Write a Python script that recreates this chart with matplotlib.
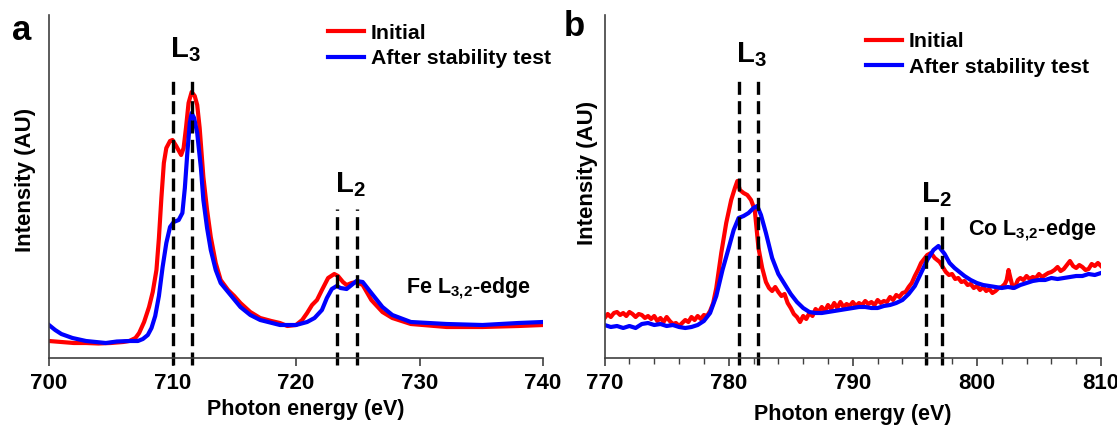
import matplotlib
matplotlib.use("Agg")
import matplotlib.pyplot as plt
from matplotlib.ticker import MultipleLocator

plt.rcParams['font.family'] = ['Liberation Sans', 'DejaVu Sans']
plt.rcParams['font.weight'] = 'bold'
plt.rcParams['mathtext.fontset'] = 'custom'
plt.rcParams['mathtext.rm'] = 'Liberation Sans:bold'
plt.rcParams['mathtext.it'] = 'Liberation Sans:bold'
plt.rcParams['mathtext.bf'] = 'Liberation Sans:bold'
plt.rcParams['mathtext.default'] = 'rm'

# ---------------- Panel a: Fe L3,2-edge ----------------
fe_energy_initial = [700.0, 701.0, 702.0, 703.0, 704.0, 705.0, 706.0, 706.5, 707.0, 707.3,
                     707.7, 708.1, 708.4, 708.7, 708.9, 709.1, 709.3, 709.5, 709.8, 710.0,
                     710.3, 710.7, 710.9, 711.1, 711.3, 711.55, 711.8, 712.0, 712.2, 712.5,
                     712.8, 713.1, 713.5, 713.9, 714.5, 715.0, 715.5, 716.3, 717.1, 718.0,
                     718.7, 719.3, 720.0, 720.5, 720.9, 721.3, 721.7, 722.1, 722.6, 723.1,
                     723.4, 723.8, 724.1, 724.5, 724.9, 725.4, 726.1, 727.0, 727.8, 729.3,
                     732.2, 735.1, 738.0, 740.0]
fe_initial = [17, 16, 15, 15, 14.5, 15, 16, 17, 20, 25,
              36, 51, 66, 88, 120, 160, 195, 210, 217, 218,
              212, 203, 210, 231, 255, 266, 262, 253, 230, 181,
              148, 121, 95, 78, 68, 62, 55, 46, 40, 37,
              35, 32, 33, 38, 45, 53, 58, 68, 80, 84,
              82, 76, 73, 75, 76, 73, 58, 46, 40, 34,
              31, 31, 32, 33]
fe_energy_after = [700.0, 700.5, 701.0, 701.9, 703.0, 704.6, 705.5, 706.5, 707.2, 707.6,
                   708.0, 708.3, 708.6, 708.9, 709.2, 709.5, 709.8, 710.1, 710.5, 710.8,
                   711.0, 711.2, 711.4, 711.55, 711.75, 712.0, 712.3, 712.5, 712.8, 713.1,
                   713.5, 713.9, 714.5, 715.5, 716.3, 717.1, 718.7, 720.0, 720.9, 721.5,
                   722.1, 722.5, 722.9, 723.3, 723.6, 724.1, 724.6, 724.9, 725.4, 726.1,
                   727.0, 727.8, 729.3, 732.2, 735.1, 738.0, 740.0]
fe_after = [33, 28, 24, 20, 17, 15, 16.5, 17, 17, 19,
            23, 30, 42, 62, 91, 115, 131, 136, 138, 145,
            170, 205, 235, 245, 240, 225, 190, 158, 130, 108,
            88, 75, 66, 51, 43, 38, 33, 33, 36, 40,
            48, 60, 69, 72, 70, 69, 74, 77, 76, 65,
            51, 43, 36, 34, 33, 35, 36]
fe_l3 = [710.0, 711.55]
fe_l2 = [723.3, 724.9]

# ---------------- Panel b: Co L3,2-edge ----------------
co_energy_initial = [770.00, 770.25, 770.50, 770.75, 771.00, 771.25, 771.50, 771.75, 772.00, 772.25,
                     772.50, 772.75, 773.00, 773.25, 773.50, 773.75, 774.00, 774.25, 774.50, 774.75,
                     775.00, 775.25, 775.50, 775.75, 776.00, 776.25, 776.50, 776.75, 777.00, 777.25,
                     777.50, 777.75, 778.00, 778.25, 778.50, 778.75, 779.00, 779.40, 779.80, 780.20,
                     780.50, 780.70, 780.90, 781.20, 781.50, 781.80, 782.10, 782.40, 782.70, 783.00,
                     783.25, 783.50, 783.75, 784.00, 784.25, 784.50, 784.75, 785.00, 785.25, 785.50,
                     785.75, 786.00, 786.25, 786.50, 786.75, 787.00, 787.25, 787.50, 787.75, 788.00,
                     788.25, 788.50, 788.75, 789.00, 789.25, 789.50, 789.75, 790.00, 790.25, 790.50,
                     790.75, 791.00, 791.25, 791.50, 791.75, 792.00, 792.25, 792.50, 792.75, 793.00,
                     793.25, 793.50, 793.75, 794.00, 794.25, 794.50, 794.75, 795.00, 795.25, 795.50,
                     795.75, 796.00, 796.30, 796.60, 797.00, 797.25, 797.50, 797.75, 798.00, 798.25,
                     798.50, 798.75, 799.00, 799.25, 799.50, 799.75, 800.00, 800.25, 800.50, 800.75,
                     801.00, 801.25, 801.50, 801.75, 802.00, 802.25, 802.40, 802.55, 802.70, 802.90,
                     803.10, 803.30, 803.50, 803.75, 804.00, 804.25, 804.50, 804.75, 805.00, 805.25,
                     805.50, 805.75, 806.00, 806.25, 806.50, 806.75, 807.00, 807.25, 807.50, 807.75,
                     808.00, 808.25, 808.50, 808.75, 809.00, 809.25, 809.50, 809.75, 810.00]
co_initial = [40, 44, 41, 45, 46, 43, 45, 42, 46, 44,
              41, 44, 43, 40, 42, 39, 42, 37, 40, 36,
              41, 37, 34, 35, 32, 35, 38, 36, 41, 38,
              42, 39, 43, 42, 47, 55, 70, 105, 135, 158,
              170, 177, 168, 165, 163, 158, 148, 110, 90, 76,
              70, 67, 71, 66, 62, 64, 55, 50, 44, 41,
              36, 42, 39, 45, 42, 49, 46, 51, 47, 53,
              49, 55, 50, 56, 51, 54, 52, 56, 52, 55,
              53, 57, 54, 56, 53, 58, 55, 57, 56, 61,
              58, 63, 61, 65, 66, 71, 75, 82, 88, 95,
              99, 103, 105, 100, 96, 91, 86, 83, 84, 79,
              80, 76, 77, 73, 74, 70, 72, 68, 71, 67,
              69, 65, 67, 70, 71, 74, 78, 88, 80, 70,
              72, 78, 80, 78, 82, 79, 81, 80, 84, 81,
              83, 85, 86, 88, 91, 87, 89, 93, 97, 92,
              90, 93, 91, 88, 89, 94, 92, 95, 92]
co_energy_after = [770.0, 770.5, 771.0, 771.5, 772.0, 772.5, 773.0, 773.5, 774.0, 774.5,
                   775.0, 775.5, 776.0, 776.5, 777.0, 777.5, 778.0, 778.5, 779.0, 779.5,
                   780.0, 780.4, 780.8, 781.2, 781.6, 782.0, 782.3, 782.6, 783.0, 783.5,
                   784.0, 784.5, 785.0, 785.5, 786.0, 786.5, 787.0, 787.5, 788.0, 788.5,
                   789.0, 789.5, 790.0, 790.5, 791.0, 791.5, 792.0, 792.5, 793.0, 793.5,
                   794.0, 794.5, 795.0, 795.5, 796.0, 796.5, 796.9, 797.4, 797.8, 798.2,
                   798.6, 799.0, 799.5, 800.0, 800.5, 801.0, 801.5, 802.0, 802.5, 803.0,
                   803.5, 804.0, 804.5, 805.0, 805.5, 806.0, 806.5, 807.0, 807.5, 808.0,
                   808.5, 809.0, 809.5, 810.0]
co_after = [33, 31, 32, 30, 32, 30, 34, 35, 33, 34,
            32, 33, 31, 30, 31, 33, 37, 45, 62, 88,
            110, 128, 140, 142, 145, 150, 152, 143, 125, 100,
            84, 74, 64, 56, 50, 46, 45, 45, 46, 47,
            48, 49, 50, 51, 51, 50, 50, 52, 53, 55,
            58, 64, 72, 85, 98, 108, 112, 104, 95, 90,
            86, 82, 78, 75, 73, 72, 71, 70, 71, 70,
            73, 75, 77, 78, 78, 80, 79, 80, 81, 82,
            82, 84, 83, 85]
co_l3 = [780.85, 782.4]
co_l2 = [795.9, 797.2]

legend_labels = ['Initial', 'After stability test']
RED = '#ff0000'
BLUE = '#0000ff'
SPINE = '#404040'
DASH = (0, (3.9, 1.9))

W, H = 1117, 425
fig = plt.figure(figsize=(W / 100, H / 100), dpi=100)


def px_axes(l, r, t, b):
    return fig.add_axes([l / W, 1 - b / H, (r - l) / W, (b - t) / H])


axa = px_axes(49, 543, 15, 358)
axb = px_axes(604.6, 1101, 15, 358)

for ax in (axa, axb):
    ax.set_ylim(0, 343)
    for s in ('top', 'right'):
        ax.spines[s].set_visible(False)
    for s in ('left', 'bottom'):
        ax.spines[s].set_color(SPINE)
        ax.spines[s].set_linewidth(1.2)
    ax.set_yticks([])
    ax.tick_params(axis='x', which='major', direction='out', length=6, width=1.2,
                   color=SPINE, labelsize=16, pad=5)
    ax.tick_params(axis='x', which='minor', direction='out', length=4, width=1.0,
                   color=SPINE)
    ax.set_ylabel('Intensity (AU)', fontsize=16, fontweight='bold')
    ax.set_xlabel('Photon energy (eV)', fontsize=15.5, fontweight='bold')

# Panel a
axa.set_xlim(700, 740)
axa.xaxis.set_major_locator(MultipleLocator(10))
axa.plot(fe_energy_initial, fe_initial, color=RED, lw=3, label=legend_labels[0], solid_joinstyle='round')
axa.plot(fe_energy_after, fe_after, color=BLUE, lw=3, label=legend_labels[1], solid_joinstyle='round')
for xv in fe_l3:
    axa.plot([xv, xv], [-7, 283], color='black', lw=2.4, ls=DASH, clip_on=False)
for xv in fe_l2:
    axa.plot([xv, xv], [-7, 149], color='black', lw=2.4, ls=DASH, clip_on=False)
axa.text(711.0, 308, 'L$_3$', fontsize=21, ha='center', va='center')
axa.text(724.4, 173, 'L$_2$', fontsize=21, ha='center', va='center')
axa.text(728.9, 70, r'Fe L$_{3,\!2}$-edge', fontsize=15.5, ha='left', va='center')
axa.yaxis.set_label_coords(-0.026, 0.519)
axa.xaxis.set_label_coords(0.52, -0.12)
axa.legend(loc='upper left', bbox_to_anchor=(0.565, 0.975), frameon=False, fontsize=15.3,
           handlelength=1.7, handletextpad=0.3, labelspacing=0.3, borderpad=0,
           borderaxespad=0)

# Panel b
axb.set_xlim(770, 810)
axb.xaxis.set_major_locator(MultipleLocator(10))
axb.xaxis.set_minor_locator(MultipleLocator(2))
axb.plot(co_energy_initial, co_initial, color=RED, lw=3, label=legend_labels[0], solid_joinstyle='round')
axb.plot(co_energy_after, co_after, color=BLUE, lw=3, label=legend_labels[1], solid_joinstyle='round')
for xv in co_l3:
    axb.plot([xv, xv], [-7, 283], color='black', lw=2.4, ls=DASH, clip_on=False)
for xv in co_l2:
    axb.plot([xv, xv], [-7, 146], color='black', lw=2.4, ls=DASH, clip_on=False)
axb.text(781.8, 303, 'L$_3$', fontsize=21, ha='center', va='center')
axb.text(796.7, 163, 'L$_2$', fontsize=21, ha='center', va='center')
axb.text(799.3, 128, r'Co L$_{3,\!2}$-edge', fontsize=15.5, ha='left', va='center')
axb.yaxis.set_label_coords(-0.013, 0.539)
axb.xaxis.set_label_coords(0.50, -0.135)
axb.legend(loc='upper left', bbox_to_anchor=(0.527, 0.95), frameon=False, fontsize=15.3,
           handlelength=1.7, handletextpad=0.3, labelspacing=0.3, borderpad=0,
           borderaxespad=0)

fig.text(22 / W, 1 - 30 / H, 'a', fontsize=25, fontweight='bold', ha='center', va='center')
fig.text(574 / W, 1 - 27 / H, 'b', fontsize=25, fontweight='bold', ha='center', va='center')

fig.savefig('out.png', dpi=100)
